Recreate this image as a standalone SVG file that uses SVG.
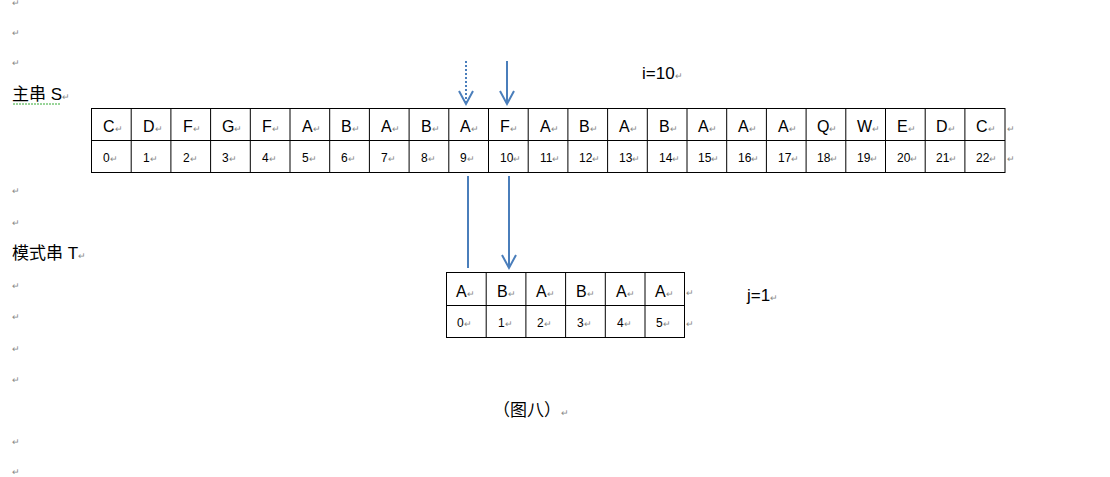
<svg xmlns="http://www.w3.org/2000/svg" width="1110" height="477" viewBox="0 0 1110 477">
<style>
text{font-family:"Liberation Sans","Noto Sans CJK SC",sans-serif;fill:#000}
.l{font-size:16px}.n{font-size:12px}.m{font-size:9px;fill:#888}.t{font-size:17px}
.c{fill:#fff;stroke:#000;stroke-width:1}
.a{stroke:#4a7ebb;stroke-width:2;fill:none}
</style>
<rect width="1110" height="477" fill="#fff"/>
<g id="marks">
<text class="m" x="12" y="6">↵</text><text class="m" x="12" y="36">↵</text><text class="m" x="12" y="66">↵</text>
<text class="m" x="12" y="194">↵</text><text class="m" x="12" y="226">↵</text><text class="m" x="12" y="289">↵</text>
<text class="m" x="12" y="320">↵</text><text class="m" x="12" y="352">↵</text><text class="m" x="12" y="383">↵</text>
<text class="m" x="12" y="445">↵</text><text class="m" x="12" y="475">↵</text>
<text class="m" x="1007" y="132">↵</text><text class="m" x="1007" y="162">↵</text>
<text class="m" x="686" y="296">↵</text><text class="m" x="686" y="327">↵</text>
</g>
<g id="labels">
<text class="t" x="12" y="100">主串 S<tspan class="m">↵</tspan></text>
<path d="M13 104 h48" stroke="#3a3" stroke-width="1" stroke-dasharray="2,1"/>
<text class="t" x="12" y="259">模式串 T<tspan class="m">↵</tspan></text>
<text class="t" x="642" y="79">i=10<tspan class="m">↵</tspan></text>
<text class="t" x="747" y="301">j=1<tspan class="m">↵</tspan></text>
<text class="t" x="493" y="416">（图八）<tspan class="m">↵</tspan></text>
</g>
<g id="mainS">
<rect class="c" x="91.5" y="108.5" width="913.5" height="64"/>
<path d="M91.5 140.5 H1005" stroke="#000"/>
<g stroke="#000">
<path d="M131.2 108.5V172.5M170.9 108.5V172.5M210.6 108.5V172.5M250.3 108.5V172.5M290 108.5V172.5M329.7 108.5V172.5M369.4 108.5V172.5M409.1 108.5V172.5M448.8 108.5V172.5M488.5 108.5V172.5M528.2 108.5V172.5M567.9 108.5V172.5M607.6 108.5V172.5M647.3 108.5V172.5M687 108.5V172.5M726.7 108.5V172.5M766.4 108.5V172.5M806.1 108.5V172.5M845.8 108.5V172.5M885.5 108.5V172.5M925.2 108.5V172.5M964.9 108.5V172.5"/>
</g>
<g class="l">
<text class="l" x="103" y="132">C<tspan class="m">↵</tspan></text>
<text class="l" x="143" y="132">D<tspan class="m">↵</tspan></text>
<text class="l" x="183" y="132">F<tspan class="m">↵</tspan></text>
<text class="l" x="222" y="132">G<tspan class="m">↵</tspan></text>
<text class="l" x="262" y="132">F<tspan class="m">↵</tspan></text>
<text class="l" x="302" y="132">A<tspan class="m">↵</tspan></text>
<text class="l" x="341" y="132">B<tspan class="m">↵</tspan></text>
<text class="l" x="381" y="132">A<tspan class="m">↵</tspan></text>
<text class="l" x="421" y="132">B<tspan class="m">↵</tspan></text>
<text class="l" x="460" y="132">A<tspan class="m">↵</tspan></text>
<text class="l" x="500" y="132">F<tspan class="m">↵</tspan></text>
<text class="l" x="540" y="132">A<tspan class="m">↵</tspan></text>
<text class="l" x="579" y="132">B<tspan class="m">↵</tspan></text>
<text class="l" x="619" y="132">A<tspan class="m">↵</tspan></text>
<text class="l" x="659" y="132">B<tspan class="m">↵</tspan></text>
<text class="l" x="698" y="132">A<tspan class="m">↵</tspan></text>
<text class="l" x="738" y="132">A<tspan class="m">↵</tspan></text>
<text class="l" x="778" y="132">A<tspan class="m">↵</tspan></text>
<text class="l" x="817" y="132">Q<tspan class="m">↵</tspan></text>
<text class="l" x="857" y="132">W<tspan class="m">↵</tspan></text>
<text class="l" x="897" y="132">E<tspan class="m">↵</tspan></text>
<text class="l" x="936" y="132">D<tspan class="m">↵</tspan></text>
<text class="l" x="976" y="132">C<tspan class="m">↵</tspan></text>
</g>
<g>
<text class="n" x="103" y="162">0<tspan class="m">↵</tspan></text>
<text class="n" x="143" y="162">1<tspan class="m">↵</tspan></text>
<text class="n" x="183" y="162">2<tspan class="m">↵</tspan></text>
<text class="n" x="222" y="162">3<tspan class="m">↵</tspan></text>
<text class="n" x="262" y="162">4<tspan class="m">↵</tspan></text>
<text class="n" x="302" y="162">5<tspan class="m">↵</tspan></text>
<text class="n" x="341" y="162">6<tspan class="m">↵</tspan></text>
<text class="n" x="381" y="162">7<tspan class="m">↵</tspan></text>
<text class="n" x="421" y="162">8<tspan class="m">↵</tspan></text>
<text class="n" x="460" y="162">9<tspan class="m">↵</tspan></text>
<text class="n" x="500" y="162">10<tspan class="m">↵</tspan></text>
<text class="n" x="540" y="162">11<tspan class="m">↵</tspan></text>
<text class="n" x="579" y="162">12<tspan class="m">↵</tspan></text>
<text class="n" x="619" y="162">13<tspan class="m">↵</tspan></text>
<text class="n" x="659" y="162">14<tspan class="m">↵</tspan></text>
<text class="n" x="698" y="162">15<tspan class="m">↵</tspan></text>
<text class="n" x="738" y="162">16<tspan class="m">↵</tspan></text>
<text class="n" x="778" y="162">17<tspan class="m">↵</tspan></text>
<text class="n" x="817" y="162">18<tspan class="m">↵</tspan></text>
<text class="n" x="857" y="162">19<tspan class="m">↵</tspan></text>
<text class="n" x="897" y="162">20<tspan class="m">↵</tspan></text>
<text class="n" x="936" y="162">21<tspan class="m">↵</tspan></text>
<text class="n" x="976" y="162">22<tspan class="m">↵</tspan></text>
</g>
</g>
<g id="patternT">
<rect class="c" x="446.5" y="272.5" width="238" height="65"/>
<path d="M446.5 305.5H684.5M486.2 272.5V337.5M525.9 272.5V337.5M565.6 272.5V337.5M605.3 272.5V337.5M645 272.5V337.5" stroke="#000"/>
<text class="l" x="456" y="297">A<tspan class="m">↵</tspan></text>
<text class="l" x="497" y="297">B<tspan class="m">↵</tspan></text>
<text class="l" x="536" y="297">A<tspan class="m">↵</tspan></text>
<text class="l" x="576" y="297">B<tspan class="m">↵</tspan></text>
<text class="l" x="616" y="297">A<tspan class="m">↵</tspan></text>
<text class="l" x="655" y="297">A<tspan class="m">↵</tspan></text>
<text class="n" x="457" y="327">0<tspan class="m">↵</tspan></text>
<text class="n" x="498" y="327">1<tspan class="m">↵</tspan></text>
<text class="n" x="537" y="327">2<tspan class="m">↵</tspan></text>
<text class="n" x="577" y="327">3<tspan class="m">↵</tspan></text>
<text class="n" x="617" y="327">4<tspan class="m">↵</tspan></text>
<text class="n" x="656" y="327">5<tspan class="m">↵</tspan></text>
</g>
<g id="connectors">
<path class="a" d="M466 61V103" stroke-dasharray="2,2"/>
<path class="a" d="M459 91L466 104L473 91"/>
<path class="a" d="M507 61V104M500 91L507 104L514 91"/>
<path class="a" d="M468 176V268"/>
<path class="a" d="M509 176V268M502 255L509 268L516 255"/>
</g>
</svg>
